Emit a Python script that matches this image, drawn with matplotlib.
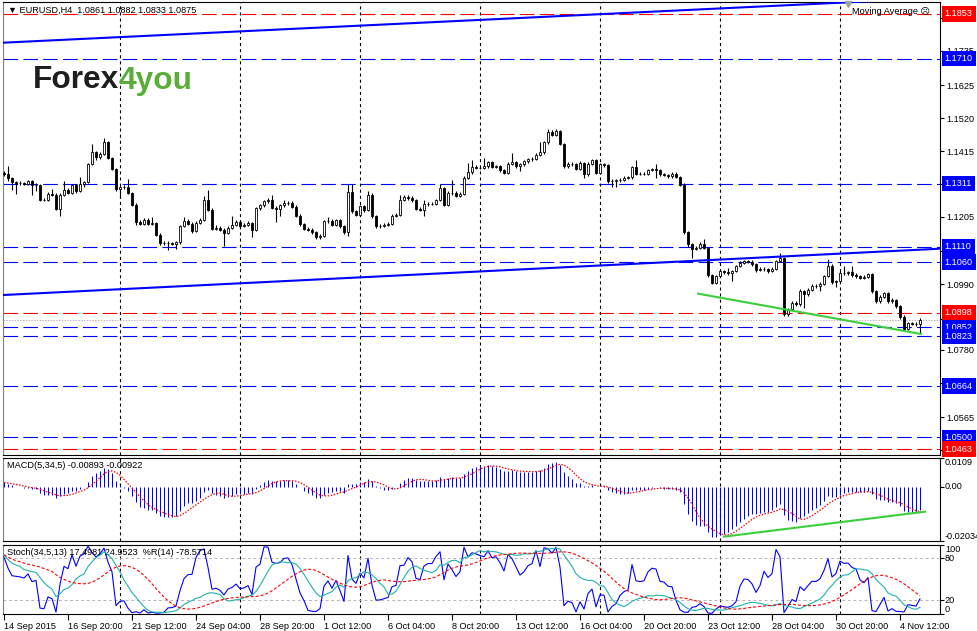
import numpy as np
import pandas as pd
import matplotlib
matplotlib.use('Agg')
import matplotlib.pyplot as plt
import matplotlib.transforms as mtrans

plt.rcParams['font.family'] = ['Liberation Sans', 'DejaVu Sans']
plt.rcParams['lines.scale_dashes'] = False

# EURUSD H4 bars (open of each bar = previous close)
first_open = 1.1346
close_prices = [
    1.1340, 1.1328, 1.1315, 1.1314, 1.1313, 1.1311, 1.1318, 1.1305, 1.1307, 1.1260,
    1.1259, 1.1279, 1.1276, 1.1230, 1.1276, 1.1292, 1.1282, 1.1305, 1.1286, 1.1311,
    1.1315, 1.1374, 1.1412, 1.1396, 1.1407, 1.1443, 1.1393, 1.1358, 1.1294, 1.1300,
    1.1301, 1.1281, 1.1244, 1.1189, 1.1183, 1.1196, 1.1182, 1.1185, 1.1148, 1.1120,
    1.1122, 1.1121, 1.1119, 1.1124, 1.1175, 1.1193, 1.1183, 1.1159, 1.1185, 1.1196,
    1.1260, 1.1228, 1.1167, 1.1170, 1.1164, 1.1154, 1.1170, 1.1180, 1.1189, 1.1177,
    1.1179, 1.1185, 1.1162, 1.1233, 1.1241, 1.1254, 1.1260, 1.1234, 1.1231, 1.1241,
    1.1249, 1.1250, 1.1237, 1.1209, 1.1182, 1.1167, 1.1164, 1.1155, 1.1139, 1.1145,
    1.1191, 1.1193, 1.1180, 1.1194, 1.1175, 1.1156, 1.1283, 1.1223, 1.1212, 1.1238,
    1.1226, 1.1276, 1.1207, 1.1175, 1.1177, 1.1180, 1.1183, 1.1209, 1.1212, 1.1260,
    1.1269, 1.1265, 1.1258, 1.1230, 1.1228, 1.1246, 1.1247, 1.1247, 1.1258, 1.1297,
    1.1244, 1.1281, 1.1282, 1.1271, 1.1279, 1.1329, 1.1347, 1.1364, 1.1361, 1.1362,
    1.1366, 1.1379, 1.1364, 1.1366, 1.1353, 1.1345, 1.1375, 1.1380, 1.1366, 1.1372,
    1.1382, 1.1388, 1.1390, 1.1403, 1.1411, 1.1443, 1.1476, 1.1467, 1.1479, 1.1438,
    1.1366, 1.1375, 1.1372, 1.1358, 1.1377, 1.1340, 1.1375, 1.1385, 1.1345, 1.1372,
    1.1371, 1.1318, 1.1320, 1.1321, 1.1324, 1.1329, 1.1331, 1.1364, 1.1343, 1.1342,
    1.1343, 1.1354, 1.1356, 1.1355, 1.1340, 1.1339, 1.1334, 1.1343, 1.1332, 1.1308,
    1.1156, 1.1117, 1.1103, 1.1106, 1.1119, 1.1106, 1.1018, 1.0994, 1.1015, 1.1031,
    1.1028, 1.1024, 1.1031, 1.1047, 1.1058, 1.1063, 1.1062, 1.1053, 1.1035, 1.1039,
    1.1038, 1.1031, 1.1039, 1.1063, 1.1074, 1.0893, 1.0911, 1.0931, 1.0925, 1.0968,
    1.0957, 1.0971, 1.0984, 1.0983, 1.0991, 1.1015, 1.1049, 1.0996, 1.0999, 1.1026,
    1.1025, 1.1028, 1.1018, 1.1015, 1.1010, 1.1013, 1.1021, 1.0968, 1.0936, 1.0950,
    1.0960, 1.0936, 1.0939, 1.0920, 1.0886, 1.0846, 1.0865, 1.0863, 1.0861, 1.0875]
high_prices = [
    1.1351, 1.1368, 1.1331, 1.1320, 1.1318, 1.1317, 1.1322, 1.1321, 1.1312, 1.1310,
    1.1265, 1.1283, 1.1294, 1.1280, 1.1280, 1.1318, 1.1296, 1.1309, 1.1309, 1.1332,
    1.1320, 1.1378, 1.1438, 1.1416, 1.1412, 1.1456, 1.1448, 1.1397, 1.1362, 1.1304,
    1.1308, 1.1326, 1.1285, 1.1248, 1.1194, 1.1200, 1.1200, 1.1205, 1.1189, 1.1152,
    1.1127, 1.1127, 1.1125, 1.1128, 1.1179, 1.1205, 1.1198, 1.1187, 1.1190, 1.1201,
    1.1271, 1.1292, 1.1232, 1.1178, 1.1175, 1.1168, 1.1174, 1.1207, 1.1195, 1.1194,
    1.1185, 1.1190, 1.1189, 1.1237, 1.1246, 1.1259, 1.1266, 1.1276, 1.1240, 1.1246,
    1.1258, 1.1256, 1.1256, 1.1241, 1.1213, 1.1186, 1.1172, 1.1168, 1.1159, 1.1149,
    1.1195, 1.1204, 1.1197, 1.1198, 1.1198, 1.1179, 1.1311, 1.1311, 1.1227, 1.1243,
    1.1243, 1.1287, 1.1280, 1.1211, 1.1183, 1.1186, 1.1188, 1.1214, 1.1218, 1.1273,
    1.1276, 1.1273, 1.1270, 1.1262, 1.1236, 1.1260, 1.1253, 1.1253, 1.1263, 1.1311,
    1.1301, 1.1286, 1.1324, 1.1286, 1.1284, 1.1334, 1.1377, 1.1385, 1.1369, 1.1367,
    1.1393, 1.1384, 1.1383, 1.1371, 1.1370, 1.1357, 1.1379, 1.1409, 1.1384, 1.1377,
    1.1387, 1.1393, 1.1396, 1.1408, 1.1444, 1.1448, 1.1485, 1.1481, 1.1484, 1.1483,
    1.1442, 1.1380, 1.1380, 1.1376, 1.1382, 1.1381, 1.1379, 1.1390, 1.1389, 1.1376,
    1.1377, 1.1375, 1.1325, 1.1327, 1.1330, 1.1334, 1.1336, 1.1368, 1.1385, 1.1348,
    1.1348, 1.1358, 1.1361, 1.1375, 1.1359, 1.1345, 1.1343, 1.1347, 1.1347, 1.1336,
    1.1312, 1.1160, 1.1121, 1.1111, 1.1124, 1.1135, 1.1110, 1.1022, 1.1019, 1.1036,
    1.1035, 1.1040, 1.1036, 1.1052, 1.1063, 1.1068, 1.1068, 1.1066, 1.1057, 1.1044,
    1.1044, 1.1042, 1.1044, 1.1068, 1.1090, 1.1078, 1.0915, 1.0936, 1.0937, 1.0973,
    1.0972, 1.0976, 1.0989, 1.0990, 1.0996, 1.1020, 1.1069, 1.1053, 1.1004, 1.1031,
    1.1047, 1.1033, 1.1047, 1.1024, 1.1020, 1.1018, 1.1026, 1.1025, 1.0972, 1.0954,
    1.0964, 1.0964, 1.0944, 1.0943, 1.0924, 1.0890, 1.0869, 1.0870, 1.0868, 1.0882]
low_prices = [
    1.1336, 1.1318, 1.1292, 1.1279, 1.1305, 1.1306, 1.1306, 1.1276, 1.1287, 1.1255,
    1.1254, 1.1256, 1.1272, 1.1226, 1.1207, 1.1272, 1.1278, 1.1278, 1.1282, 1.1283,
    1.1300, 1.1312, 1.1370, 1.1385, 1.1390, 1.1402, 1.1389, 1.1353, 1.1288, 1.1265,
    1.1295, 1.1277, 1.1240, 1.1180, 1.1179, 1.1180, 1.1178, 1.1178, 1.1144, 1.1115,
    1.1115, 1.1098, 1.1114, 1.1102, 1.1119, 1.1171, 1.1179, 1.1154, 1.1155, 1.1181,
    1.1192, 1.1224, 1.1163, 1.1162, 1.1159, 1.1111, 1.1150, 1.1165, 1.1175, 1.1172,
    1.1172, 1.1175, 1.1141, 1.1158, 1.1228, 1.1237, 1.1250, 1.1230, 1.1188, 1.1209,
    1.1237, 1.1244, 1.1233, 1.1205, 1.1176, 1.1162, 1.1160, 1.1150, 1.1134, 1.1134,
    1.1141, 1.1186, 1.1176, 1.1176, 1.1170, 1.1150, 1.1143, 1.1218, 1.1207, 1.1208,
    1.1221, 1.1222, 1.1202, 1.1170, 1.1170, 1.1172, 1.1176, 1.1179, 1.1204, 1.1208,
    1.1255, 1.1260, 1.1253, 1.1225, 1.1222, 1.1209, 1.1240, 1.1241, 1.1243, 1.1254,
    1.1240, 1.1240, 1.1276, 1.1267, 1.1267, 1.1275, 1.1325, 1.1343, 1.1356, 1.1357,
    1.1358, 1.1362, 1.1360, 1.1360, 1.1349, 1.1340, 1.1341, 1.1371, 1.1362, 1.1350,
    1.1368, 1.1378, 1.1383, 1.1386, 1.1399, 1.1407, 1.1439, 1.1462, 1.1463, 1.1434,
    1.1362, 1.1361, 1.1367, 1.1354, 1.1354, 1.1329, 1.1336, 1.1371, 1.1341, 1.1341,
    1.1365, 1.1313, 1.1300, 1.1300, 1.1316, 1.1319, 1.1325, 1.1327, 1.1339, 1.1337,
    1.1337, 1.1339, 1.1350, 1.1329, 1.1336, 1.1334, 1.1330, 1.1330, 1.1328, 1.1303,
    1.1150, 1.1110, 1.1074, 1.1098, 1.1101, 1.1101, 1.1013, 1.0990, 1.0990, 1.1011,
    1.1023, 1.1020, 1.0999, 1.1027, 1.1043, 1.1054, 1.1057, 1.1049, 1.1030, 1.1031,
    1.1033, 1.1026, 1.1027, 1.1035, 1.1059, 1.0889, 1.0889, 1.0907, 1.0920, 1.0920,
    1.0915, 1.0953, 1.0967, 1.0978, 1.0968, 1.0987, 1.1011, 1.0991, 1.0980, 1.0995,
    1.1020, 1.1020, 1.1013, 1.1010, 1.1005, 1.1005, 1.1008, 1.0963, 1.0931, 1.0931,
    1.0946, 1.0931, 1.0930, 1.0915, 1.0880, 1.0840, 1.0842, 1.0858, 1.0855, 1.0833]

# state of the indicators just before the first visible bar (estimated from the panels)
prior_ema5 = 1.1340
prior_ema34 = 1.1322
prior_high34, prior_low34 = 1.1360, 1.1225
prior_high14, prior_low14 = 1.1360, 1.1250

# horizontal levels drawn on the chart
level_prices = [1.1853, 1.1710, 1.1311, 1.1110, 1.1060, 1.0898, 1.0852, 1.0823, 1.0664, 1.0500, 1.0463]
level_colors = ['red', 'blue', 'blue', 'blue', 'blue', 'red', 'blue', 'blue', 'blue', 'blue', 'red']
last_price = 1.0875

# trend lines: (bar index, price) anchors
upper_trend = [(-0.25, 1.1761), (234, 1.1904)]
lower_trend = [(-0.25, 1.0955), (234, 1.1103)]
green_trend = [(173.25, 1.0960), (229.5, 1.0830)]
macd_trend = [(180, -0.0187), (230.25, -0.0093)]

price_ticks = [1.1840, 1.1735, 1.1625, 1.1520, 1.1415, 1.1310, 1.1205, 1.1095,
               1.0990, 1.0880, 1.0780, 1.0675, 1.0565, 1.0460]
time_labels = ['14 Sep 2015', '16 Sep 20:00', '21 Sep 12:00', '24 Sep 04:00', '28 Sep 20:00',
               '1 Oct 12:00', '6 Oct 04:00', '8 Oct 20:00', '13 Oct 12:00', '16 Oct 04:00',
               '20 Oct 20:00', '23 Oct 12:00', '28 Oct 04:00', '30 Oct 20:00', '4 Nov 12:00']
time_label_bars = [0, 16, 32, 48, 64, 80, 96, 112, 128, 144, 160, 176, 192, 208, 224]
grid_bars = [29, 59, 89, 119, 149, 179, 209]

# ---- indicators (MT4 definitions) ----
c = pd.Series(close_prices)
h = pd.Series(high_prices)
l = pd.Series(low_prices)
o = pd.Series([first_open] + close_prices[:-1])
idx = np.arange(len(c))


def ema(values, n, seed):
    k = 2.0 / (n + 1)
    out, prev = [], seed
    for v in values:
        prev = prev + k * (v - prev)
        out.append(prev)
    return pd.Series(out)


macd = ema(c, 5, prior_ema5) - ema(c, 34, prior_ema34)
macd_sig = macd.rolling(5, min_periods=1).mean()

hh = h.rolling(34, min_periods=1).max()
ll = l.rolling(34, min_periods=1).min()
hh[idx < 33] = np.maximum(hh[idx < 33], prior_high34)
ll[idx < 33] = np.minimum(ll[idx < 33], prior_low34)
sto_main = 100 * (c - ll).rolling(5, min_periods=1).sum() / (hh - ll).rolling(5, min_periods=1).sum()
sto_sig = sto_main.rolling(13, min_periods=1).mean()
hh14 = h.rolling(14, min_periods=1).max()
ll14 = l.rolling(14, min_periods=1).min()
hh14[idx < 13] = np.maximum(hh14[idx < 13], prior_high14)
ll14[idx < 13] = np.minimum(ll14[idx < 13], prior_low14)
wpr = -100 * (hh14 - c) / (hh14 - ll14)

# ---- layout in pixels ----
W, H = 978, 631
fig = plt.figure(figsize=(W / 100, H / 100), dpi=100)


def box(x0, y0, x1, y1):
    return [x0 / W, 1 - y1 / H, (x1 - x0) / W, (y1 - y0) / H]


ax = fig.add_axes(box(3, 2, 940, 455))
ax_macd = fig.add_axes(box(3, 458, 940, 541))
ax_sto = fig.add_axes(box(3, 544.5, 940, 614))

FS = 6.6
for a in (ax, ax_macd, ax_sto):
    a.set_xlim(-0.25, 234)
    for s in a.spines.values():
        s.set_linewidth(0.8)
        s.set_color('black')
    a.spines['left'].set_color('#808080')
    a.tick_params(axis='x', bottom=False, labelbottom=False)
    a.yaxis.tick_right()
    a.tick_params(axis='y', length=3, width=0.8, labelsize=FS, pad=1.5)
    for g in grid_bars:
        a.axvline(g, color='black', lw=0.8, dashes=(2.2, 2.2), zorder=1)

# ---- main price panel ----
ax.set_ylim(1.0444, 1.1891)
ax.set_yticks(price_ticks)
ax.set_yticklabels([f'{v:.4f}' for v in price_ticks])

for p, col in zip(level_prices, level_colors):
    ax.axhline(p, color=col, lw=0.8, dashes=(10.5, 3.8), zorder=2)
ax.axhline(last_price, color='#b8b0b8', lw=0.7, dashes=(1, 1), zorder=2)

up = c >= o
ax.vlines(idx, l, h, color='black', lw=0.8, zorder=3)
ax.bar(idx, (c - o).abs().clip(lower=0.00003), bottom=np.minimum(o, c), width=0.72,
       color=np.where(up, 'white', 'black'), edgecolor='black', linewidth=0.6, zorder=4)

for line, col in ((upper_trend, 'blue'), (lower_trend, 'blue'), (green_trend, '#3ccf3c')):
    xs, ys = zip(*line)
    ax.plot(xs, ys, color=col, lw=1.5, zorder=5, solid_capstyle='butt')

# shift marker at the top of the chart
ax.plot([211], [1.1886], marker='v', ms=4, color='#a0a0a0', zorder=6, clip_on=False)

# coloured price boxes on the right scale
tr = mtrans.blended_transform_factory(ax.transAxes, ax.transData)
box_style = 'square,pad=0.35'
ax.annotate(f'{last_price:.4f}', xy=(1, last_price), xycoords=tr, xytext=(3.4, 0),
            textcoords='offset points', va='center', ha='left', fontsize=FS, color='white',
            bbox=dict(boxstyle=box_style, fc='black', ec='none'), annotation_clip=False, zorder=6)
for p, col in zip(level_prices, level_colors):
    ax.annotate(f'{p:.4f}', xy=(1, p), xycoords=tr, xytext=(3.4, 0),
                textcoords='offset points', va='center', ha='left', fontsize=FS, color='white',
                bbox=dict(boxstyle=box_style, fc=col, ec='none'), annotation_clip=False, zorder=7)

fig.text(8 / W, 1 - 10 / H, '\u25bc EURUSD,H4  1.0861 1.0882 1.0833 1.0875', fontsize=FS,
         va='center', ha='left')
fig.text(852 / W, 1 - 12 / H, 'Moving Average \u2639', fontsize=FS, va='center', ha='left')
fig.text(33 / W, 1 - 88.5 / H, 'Forex', fontsize=22.8, fontweight='bold', color='#1e1e1e',
         va='baseline', ha='left')
fig.text(119 / W, 1 - 88.5 / H, '4you', fontsize=22.8, fontweight='bold', color='#5aad38',
         va='baseline', ha='left')

# ---- MACD panel ----
macd_lo, macd_hi = -0.02034, 0.0109
ax_macd.set_ylim(macd_lo, macd_hi)
ax_macd.set_yticks([macd_hi, 0, macd_lo])
ax_macd.set_yticklabels(['', '', ''])
ax_macd.vlines(idx, 0, macd, color='#0000ff', lw=0.75, zorder=3)
ax_macd.plot(idx, macd_sig, color='red', lw=0.9, dashes=(1.1, 1.1), zorder=4)
xs, ys = zip(*macd_trend)
ax_macd.plot(xs, ys, color='#3ccf3c', lw=1.5, zorder=5)
trm = mtrans.blended_transform_factory(ax_macd.transAxes, ax_macd.transData)
for val, txt, va in ((macd_hi, '0.0109', 'top'), (0, '0.00', 'center'), (macd_lo, '-0.02034', 'bottom')):
    ax_macd.annotate(txt, xy=(1, val), xycoords=trm, xytext=(3.5, 0), textcoords='offset points',
                     va=va, ha='left', fontsize=FS, annotation_clip=False)
ax_macd.text(0.004, 0.91, 'MACD(5,34,5) -0.00893 -0.00922', transform=ax_macd.transAxes,
             fontsize=FS, va='center', ha='left')

# ---- Stochastic / %R panel ----
ax_sto.set_ylim(0, 100)
ax_sto.set_yticks([100, 80, 20, 0])
ax_sto.set_yticklabels(['', '', '', ''])
for lv in (80, 20):
    ax_sto.axhline(lv, color='#b8b0b8', lw=0.7, dashes=(2, 2), zorder=1)
ax_sto.plot(idx, wpr + 100, color='#0000ff', lw=0.8, zorder=3)
ax_sto.plot(idx, sto_main, color='#20b2aa', lw=0.8, zorder=4)
ax_sto.plot(idx, sto_sig, color='red', lw=0.8, dashes=(2.2, 1.4), zorder=5)
trs = mtrans.blended_transform_factory(ax_sto.transAxes, ax_sto.transData)
for val, va in ((100, 'top'), (80, 'center'), (20, 'center'), (0, 'bottom')):
    ax_sto.annotate(str(val), xy=(1, val), xycoords=trs, xytext=(3.5, 0), textcoords='offset points',
                    va=va, ha='left', fontsize=FS, annotation_clip=False)
ax_sto.text(0.004, 0.88, 'Stoch(34,5,13) 17.4981 24.9523  %R(14) -78.5714', transform=ax_sto.transAxes,
            fontsize=FS, va='center', ha='left')

ax_sto.set_xticks(time_label_bars)
ax_sto.set_xticklabels(time_labels)
ax_sto.tick_params(axis='x', bottom=True, labelbottom=True, length=4, width=0.8, labelsize=FS, pad=1.5)
for t in ax_sto.get_xticklabels():
    t.set_ha('left')

fig.savefig('out.png', dpi=100)
